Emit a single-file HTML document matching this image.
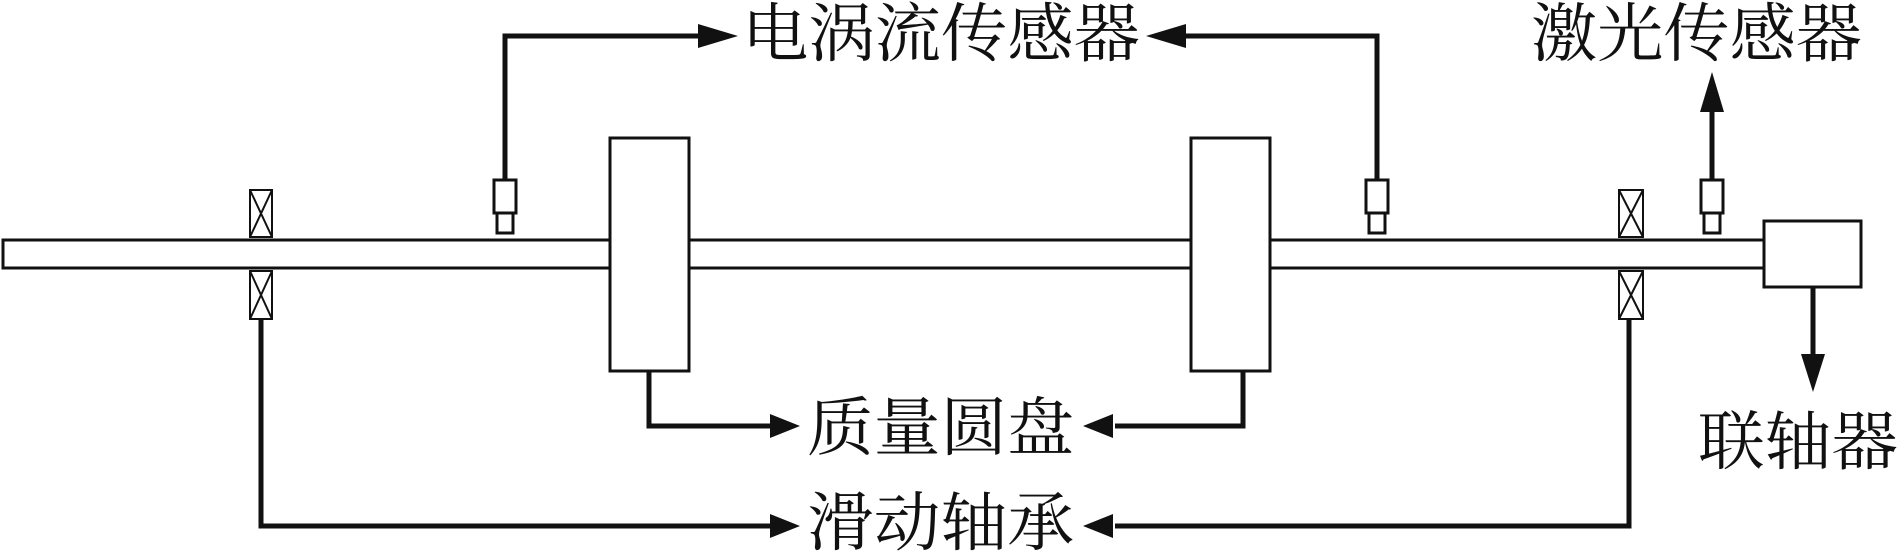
<!DOCTYPE html>
<html><head><meta charset="utf-8"><style>
body{margin:0;background:#fff;}
svg{display:block}
text{font-family:"Liberation Serif","Noto Serif CJK SC","Noto Sans CJK SC",serif;font-size:64px;fill:#111}
</style></head><body>
<svg width="1902" height="554" viewBox="0 0 1902 554" xmlns="http://www.w3.org/2000/svg">
<g stroke="#111" fill="none" stroke-width="3">
<!-- shaft -->
<rect x="3" y="240" width="1762" height="28" fill="#fff"/>
<!-- coupler -->
<rect x="1764" y="221" width="97" height="66" fill="#fff"/>
<!-- disks -->
<rect x="610" y="138" width="79" height="233" fill="#fff"/>
<rect x="1191" y="138" width="79" height="233" fill="#fff"/>
<!-- bearings -->
<g stroke-width="2">
<rect x="250" y="190" width="22" height="47" fill="#fff"/><path d="M250 190L272 237M272 190L250 237"/>
<rect x="250" y="271" width="22" height="48" fill="#fff"/><path d="M250 271L272 319M272 271L250 319"/>
<rect x="1619" y="190" width="24" height="47" fill="#fff"/><path d="M1619 190L1643 237M1643 190L1619 237"/>
<rect x="1619" y="271" width="24" height="48" fill="#fff"/><path d="M1619 271L1643 319M1643 271L1619 319"/>
</g>
<!-- sensors -->
<g stroke-width="3" fill="#fff">
<rect x="494" y="180" width="22" height="33"/><rect x="497" y="213" width="16" height="20"/>
<rect x="1366" y="180" width="22" height="33"/><rect x="1369" y="213" width="16" height="20"/>
<rect x="1701" y="180" width="22" height="33"/><rect x="1704" y="213" width="16" height="20"/>
</g>
<!-- connectors -->
<g stroke-width="5">
<path d="M505 180V36H705"/>
<path d="M1377 180V36H1180"/>
<path d="M1712 180V105"/>
<path d="M649 371V426H770"/>
<path d="M1243 371V426H1115"/>
<path d="M261 319V526H770"/>
<path d="M1629 319V526H1115"/>
<path d="M1813 287V360"/>
</g>
</g>
<g fill="#111">
<polygon points="738,36 698,24 698,48"/>
<polygon points="1146,36 1186,24 1186,48"/>
<polygon points="1712,72 1700,112 1724,112"/>
<polygon points="800,426 770,414 770,438"/>
<polygon points="1083,426 1113,414 1113,438"/>
<polygon points="800,526 770,514 770,538"/>
<polygon points="1083,526 1113,514 1113,538"/>
<polygon points="1813,392 1801,354 1825,354"/>
</g>
<text x="742" y="56" textLength="398" lengthAdjust="spacingAndGlyphs">电涡流传感器</text>
<text x="1531" y="56" textLength="331" lengthAdjust="spacingAndGlyphs">激光传感器</text>
<text x="807" y="450" textLength="267" lengthAdjust="spacingAndGlyphs">质量圆盘</text>
<text x="807" y="545" textLength="267" lengthAdjust="spacingAndGlyphs">滑动轴承</text>
<text x="1698" y="464" textLength="200" lengthAdjust="spacingAndGlyphs">联轴器</text>
</svg>
</body></html>
